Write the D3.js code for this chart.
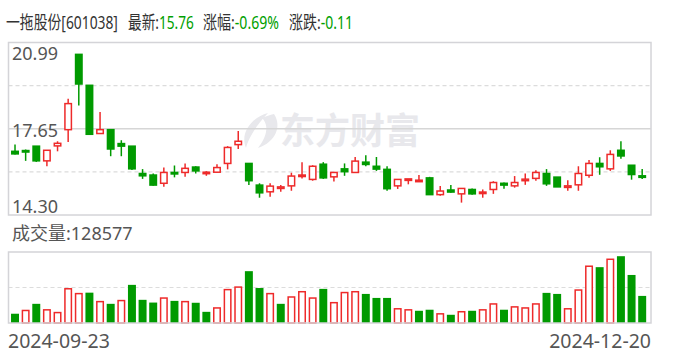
<!DOCTYPE html>
<html>
<head>
<meta charset="utf-8">
<script src="https://cdn.jsdelivr.net/npm/d3@7"></script>
<style>
  body { margin: 0; background: #fff; }
  text { font-family: "Noto Sans", "Noto Sans CJK SC", sans-serif; }
</style>
</head>
<body>
<div id="chart"></div>
<script>
// trading days shown
const dates = [
  '2024-09-23','2024-09-24','2024-09-25','2024-09-26','2024-09-27','2024-09-30',
  '2024-10-08','2024-10-09','2024-10-10','2024-10-11','2024-10-14','2024-10-15','2024-10-16','2024-10-17','2024-10-18',
  '2024-10-21','2024-10-22','2024-10-23','2024-10-24','2024-10-25','2024-10-28','2024-10-29','2024-10-30','2024-10-31',
  '2024-11-01','2024-11-04','2024-11-05','2024-11-06','2024-11-07','2024-11-08','2024-11-11','2024-11-12','2024-11-13',
  '2024-11-14','2024-11-15','2024-11-18','2024-11-19','2024-11-20','2024-11-21','2024-11-22','2024-11-25','2024-11-26',
  '2024-11-27','2024-11-28','2024-11-29','2024-12-02','2024-12-03','2024-12-04','2024-12-05','2024-12-06','2024-12-09',
  '2024-12-10','2024-12-11','2024-12-12','2024-12-13','2024-12-16','2024-12-17','2024-12-18','2024-12-19','2024-12-20'
];
const open = [16.77,16.80,16.97,16.40,16.98,17.61,20.53,19.33,17.46,17.61,17.07,16.97,15.91,15.85,15.53,15.95,15.95,16.16,15.94,15.96,
  16.30,17.03,16.30,15.46,15.20,15.33,15.43,15.82,15.68,16.27,15.78,16.09,15.95,16.35,16.19,16.07,15.43,15.65,15.63,15.74,
  15.09,15.27,15.12,15.29,15.16,15.29,15.53,15.43,15.63,15.72,15.91,15.77,15.37,15.47,15.84,16.30,16.09,16.81,16.23,15.82];
const high = [17.03,16.84,16.97,16.81,17.16,18.81,20.53,19.33,18.29,17.61,17.20,16.97,16.08,15.91,16.14,16.22,16.30,16.19,16.00,16.27,
  16.97,17.56,16.30,15.53,15.53,15.46,15.94,16.35,16.23,16.35,15.95,16.30,16.55,16.62,16.55,16.19,15.68,15.70,15.85,15.78,
  15.42,15.46,15.33,15.33,15.29,15.61,15.56,15.81,15.91,16.04,16.08,15.77,15.65,16.19,16.43,16.54,16.81,17.16,16.23,16.08];
const low = [16.65,16.40,16.36,16.19,16.77,17.13,18.55,17.43,17.46,16.58,16.58,16.05,15.70,15.43,15.40,15.76,15.78,15.91,15.82,15.94,
  16.07,16.86,15.46,14.97,15.01,15.20,15.24,15.72,15.63,15.70,15.60,15.82,15.95,16.19,16.01,15.24,15.31,15.49,15.59,15.09,
  15.05,15.16,14.78,15.09,14.97,15.12,15.32,15.36,15.47,15.63,15.43,15.39,15.24,15.24,15.74,15.86,16.01,16.48,15.67,15.70];
const close = [16.67,16.77,16.40,16.81,17.08,18.62,19.38,17.43,17.61,16.86,16.97,16.09,15.82,15.46,15.95,15.92,16.11,16.01,15.96,16.14,
  16.92,17.16,15.63,15.16,15.42,15.39,15.81,15.85,16.19,15.74,15.95,15.98,16.39,16.26,16.08,15.32,15.68,15.70,15.65,15.09,
  15.23,15.19,15.33,15.12,15.19,15.56,15.46,15.56,15.69,15.95,15.51,15.39,15.43,15.91,16.30,16.17,16.65,16.59,15.87,15.76];
const volume = [44000,63000,91000,66000,53000,166000,143000,144000,105000,91000,110000,181000,110000,97000,122000,105000,105000,96000,53000,75000,
  162000,174000,246000,166000,143000,91000,127000,152000,122000,162000,100000,148000,152000,138000,119000,119000,71000,66000,58000,63000,
  47000,39000,57000,58000,66000,94000,63000,80000,75000,94000,143000,138000,71000,160000,273000,265000,306000,317000,228000,128577];
const prevClose = 16.80;   // close before the first day
const priceTicks = [20.99, 17.65, 14.30];

const width = 688, height = 360;
const red = '#ee2a2a', green = '#009a00', textColor = '#555';

const svg = d3.select('#chart').append('svg')
  .attr('width', width)
  .attr('height', height);

// panel boxes
const pTop = 42.5, pBottom = 215, left = 8.5, right = 651;
const vTop = 252, vBottom = 323;

const x = d3.scaleBand()
  .domain(dates)
  .range([9.7, 647.5])
  .paddingInner(0.25)
  .paddingOuter(0.125);

const y = d3.scaleLinear()
  .domain([priceTicks[2], priceTicks[0]])
  .range([pBottom, pTop]);

const yv = d3.scaleLinear()
  .domain([0, d3.max(volume) * 1.063])
  .range([vBottom, vTop]);

// ---- title line: label in grey, value in green, squeezed to the reference widths
const title = [
  { label: '一拖股份[601038]', value: '', x: 6, w: 112 },
  { label: '最新:', value: close[close.length - 1].toFixed(2), x: 128, w: 66 },
  { label: '涨幅:', value: '-0.69%', x: 203, w: 76 },
  { label: '涨跌:', value: '-0.11', x: 289, w: 64 }
];
title.forEach(d => {
  const g = svg.append('g');
  const t = g.append('text').attr('font-size', 18.5);
  t.append('tspan').attr('fill', '#333').text(d.label);
  if (d.value) t.append('tspan').attr('fill', '#00a000').text(d.value);
  const len = t.node().getComputedTextLength();
  g.attr('transform', `translate(${d.x},28.5) scale(${d.w / len},1)`);
});

// ---- watermark
const wm = svg.append('g').attr('fill', '#e8e8ec');
wm.append('path')
  .attr('d', 'M268,113 C250,118 240,134 246,148 C248,140 254,128 268,113 Z');
wm.append('path')
  .attr('d', 'M274,114 C282,126 276,142 258,148 C266,138 270,126 262,118 C266,116 270,115 274,114 Z');
wm.append('text')
  .attr('x', 280).attr('y', 144)
  .attr('font-size', 36)
  .attr('font-weight', 'bold')
  .attr('textLength', 140)
  .attr('lengthAdjust', 'spacingAndGlyphs')
  .text('东方财富');

// ---- price grid
const mid = (priceTicks[0] + priceTicks[2]) / 2;
svg.append('line')
  .attr('x1', left).attr('x2', right)
  .attr('y1', y(mid)).attr('y2', y(mid))
  .attr('stroke', '#d6d6d6').attr('stroke-width', 1.5);
[(priceTicks[0] + mid) / 2, (mid + priceTicks[2]) / 2].forEach(v => {
  svg.append('line')
    .attr('x1', left).attr('x2', right)
    .attr('y1', y(v)).attr('y2', y(v))
    .attr('stroke', '#dcdcdc').attr('stroke-width', 1.2)
    .attr('stroke-dasharray', '4,3');
});
svg.append('rect')
  .attr('x', left).attr('y', pTop)
  .attr('width', right - left).attr('height', pBottom - pTop)
  .attr('fill', 'none').attr('stroke', '#d4d4d8').attr('stroke-width', 1.5);

// price labels
svg.selectAll('text.ptick').data(priceTicks).enter().append('text')
  .attr('class', 'ptick')
  .attr('x', 12)
  .attr('y', (d, i) => [60, 137, 213][i])
  .attr('font-size', 18)
  .attr('fill', textColor)
  .text(d => d.toFixed(2));

// ---- candles
const bw = x.bandwidth();
const candles = svg.append('g').selectAll('g').data(dates).enter().append('g');
candles.each(function (d, i) {
  const g = d3.select(this);
  const cx = x(d) + bw / 2;
  const up = close[i] > open[i] || (close[i] === open[i] && close[i] >= (i ? close[i - 1] : prevClose));
  const col = up ? red : green;
  const top = y(Math.max(open[i], close[i]));
  const bot = y(Math.min(open[i], close[i]));
  const bh = Math.max(bot - top, 1.5);
  // wicks above and below the body
  g.append('line')
    .attr('x1', cx).attr('x2', cx)
    .attr('y1', y(high[i])).attr('y2', top)
    .attr('stroke', col).attr('stroke-width', 1.5);
  g.append('line')
    .attr('x1', cx).attr('x2', cx)
    .attr('y1', top + bh).attr('y2', y(low[i]))
    .attr('stroke', col).attr('stroke-width', 1.5);
  if (up) {
    g.append('rect')
      .attr('x', x(d) + 0.75).attr('y', top)
      .attr('width', bw - 1.5).attr('height', bh)
      .attr('fill', '#fff').attr('stroke', col).attr('stroke-width', 1.5);
  } else {
    g.append('rect')
      .attr('x', x(d)).attr('y', top - 0.75)
      .attr('width', bw).attr('height', bh + 1.5)
      .attr('fill', col);
  }
});

// ---- volume panel
svg.append('text')
  .attr('x', 12).attr('y', 240)
  .attr('font-size', 18)
  .attr('fill', textColor)
  .text('成交量:' + volume[volume.length - 1]);

svg.append('line')
  .attr('x1', left).attr('x2', right)
  .attr('y1', (vTop + vBottom) / 2).attr('y2', (vTop + vBottom) / 2)
  .attr('stroke', '#dcdcdc').attr('stroke-width', 1.2)
  .attr('stroke-dasharray', '4,3');

// volume colour follows close vs previous close
svg.append('g').selectAll('rect').data(dates).enter().append('rect')
  .each(function (d, i) {
    const up = close[i] >= (i ? close[i - 1] : prevClose);
    const r = d3.select(this);
    if (up) {
      r.attr('x', x(d) + 0.75).attr('y', yv(volume[i]) + 0.75)
        .attr('width', bw - 1.5).attr('height', Math.max(vBottom - yv(volume[i]) - 0.75, 0))
        .attr('fill', '#fff').attr('stroke', red).attr('stroke-width', 1.5);
    } else {
      r.attr('x', x(d)).attr('y', yv(volume[i]))
        .attr('width', bw).attr('height', vBottom - yv(volume[i]))
        .attr('fill', green);
    }
  });

svg.append('rect')
  .attr('x', left).attr('y', vTop)
  .attr('width', right - left).attr('height', vBottom - vTop)
  .attr('fill', 'none').attr('stroke', '#d4d4d8').attr('stroke-width', 1.5);

// date labels at both ends
svg.append('text')
  .attr('x', 8).attr('y', 348)
  .attr('font-size', 19.5)
  .attr('fill', textColor)
  .text(dates[0]);
svg.append('text')
  .attr('x', 651).attr('y', 348)
  .attr('font-size', 19.5)
  .attr('text-anchor', 'end')
  .attr('fill', textColor)
  .text(dates[dates.length - 1]);
</script>
</body>
</html>
